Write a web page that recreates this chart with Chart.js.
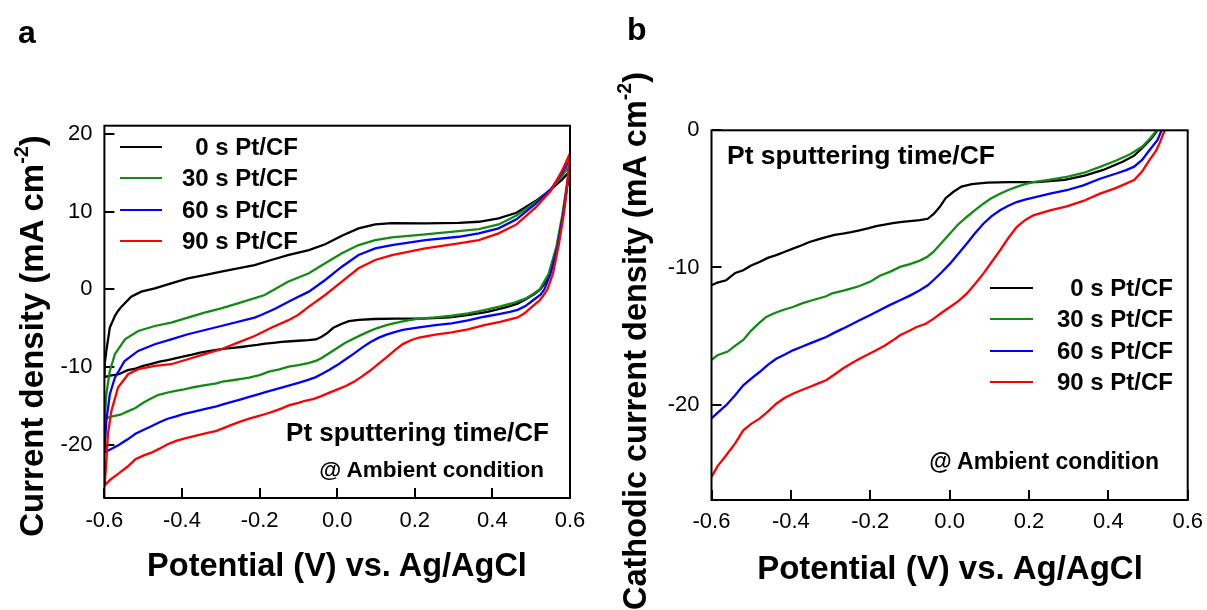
<!DOCTYPE html>
<html>
<head>
<meta charset="utf-8">
<script src="https://cdn.jsdelivr.net/npm/chart.js@4.4.1/dist/chart.umd.min.js"></script>
<style>
  body { margin: 0; background: #fff; }
  #wrap { position: relative; width: 1207px; height: 610px; overflow: hidden; background: #fff;
          font-family: 'Liberation Sans', Arial, sans-serif; color: #000; }
  canvas { position: absolute; top: 0; }
  .t { position: absolute; white-space: nowrap; font-weight: bold; line-height: 1; }
  .c { transform: translate(-50%, -50%); }
  .yt { transform: translate(-50%, -50%) rotate(-90deg); }
  .leg { position: absolute; height: 2px; }
  sup { font-size: 0.6em; line-height: 0; vertical-align: 0.75em; }
</style>
</head>
<body>
<div id="wrap">
  <canvas id="cvA" width="600" height="610" style="left:0"></canvas>
  <canvas id="cvB" width="607" height="610" style="left:600px"></canvas>

  <div class="t" style="left:18px; top:16px; font-size:32px;">a</div>
  <div class="t" style="left:627px; top:13px; font-size:32px;">b</div>

  <div class="t yt" style="left:31px; top:336px; font-size:33px;">Current density (mA cm<sup>-2</sup>)</div>
  <div class="t c" style="left:337px; top:565px; font-size:32.5px;">Potential (V) vs. Ag/AgCl</div>
  <div class="t yt" style="left:635px; top:341px; font-size:32.5px;">Cathodic current density (mA cm<sup>-2</sup>)</div>
  <div class="t c" style="left:950px; top:567px; font-size:33px;">Potential (V) vs. Ag/AgCl</div>

  <div class="t" style="right:658px; top:419px; font-size:26px;">Pt sputtering time/CF</div>
  <div class="t" style="right:663px; top:459px; font-size:22.5px;">@ Ambient condition</div>
  <div class="t" style="left:727px; top:142px; font-size:26.5px;">Pt sputtering time/CF</div>
  <div class="t" style="right:48px; top:450px; font-size:23px;">@ Ambient condition</div>

  <div id="legA"></div>
  <div id="legB"></div>
</div>
<script>
// tick labels and series names
const xTicks = [-0.6, -0.4, -0.2, 0, 0.2, 0.4, 0.6];
const yTicksA = [-20, -10, 0, 10, 20];
const yTicksB = [-20, -10, 0];
const seriesNames = ['0 s Pt/CF', '30 s Pt/CF', '60 s Pt/CF', '90 s Pt/CF'];
const seriesColors = ['#000000', '#138a13', '#0000ff', '#ff0000'];

// cathodic sweep [potential V, current mA/cm2] (panel b, lower branch of panel a)
const cath0 = [[-0.6,-11.3],[-0.585,-11.1],[-0.563,-10.93],[-0.54,-10.4],[-0.52,-10.2],[-0.5,-9.85],[-0.479,-9.6],[-0.458,-9.3],[-0.437,-9.1],[-0.415,-8.85],[-0.395,-8.63],[-0.374,-8.4],[-0.353,-8.14],[-0.331,-7.95],[-0.311,-7.78],[-0.29,-7.62],[-0.269,-7.53],[-0.248,-7.42],[-0.227,-7.29],[-0.206,-7.15],[-0.185,-6.98],[-0.164,-6.88],[-0.143,-6.76],[-0.12,-6.68],[-0.1,-6.62],[-0.075,-6.55],[-0.055,-6.45],[-0.04,-6.1],[-0.025,-5.6],[-0.01,-4.95],[0.009,-4.5],[0.03,-4.1],[0.056,-3.92],[0.095,-3.82],[0.15,-3.78],[0.22,-3.77],[0.29,-3.62],[0.34,-3.3],[0.387,-2.89],[0.436,-2.29],[0.465,-1.85],[0.485,-1.31],[0.509,-0.58],[0.524,0],[0.545,1.5],[0.565,5],[0.58,9],[0.592,13],[0.6,15.2]];
const cath1 = [[-0.6,-16.74],[-0.585,-16.4],[-0.559,-16.13],[-0.54,-15.7],[-0.52,-15.28],[-0.5,-14.6],[-0.481,-14.07],[-0.462,-13.6],[-0.442,-13.34],[-0.42,-13.1],[-0.395,-12.88],[-0.37,-12.6],[-0.344,-12.37],[-0.311,-12.1],[-0.296,-11.88],[-0.27,-11.7],[-0.247,-11.52],[-0.227,-11.35],[-0.198,-11.0],[-0.176,-10.6],[-0.149,-10.3],[-0.125,-9.96],[-0.1,-9.75],[-0.075,-9.5],[-0.055,-9.2],[-0.041,-8.87],[-0.02,-8.2],[0.001,-7.53],[0.02,-6.9],[0.043,-6.32],[0.065,-5.8],[0.085,-5.35],[0.105,-4.95],[0.127,-4.62],[0.148,-4.35],[0.169,-4.13],[0.19,-3.93],[0.211,-3.77],[0.253,-3.6],[0.295,-3.4],[0.337,-3.11],[0.379,-2.67],[0.42,-2.2],[0.455,-1.75],[0.485,-1.2],[0.505,-0.6],[0.522,0],[0.545,2],[0.565,5.5],[0.58,9.5],[0.592,13.5],[0.6,16.0]];
const cath2 = [[-0.6,-21.0],[-0.585,-20.6],[-0.563,-20.04],[-0.54,-19.3],[-0.52,-18.59],[-0.5,-18.1],[-0.479,-17.62],[-0.458,-17.1],[-0.437,-16.65],[-0.415,-16.35],[-0.395,-16.04],[-0.374,-15.8],[-0.353,-15.55],[-0.331,-15.3],[-0.311,-15.07],[-0.29,-14.75],[-0.269,-14.46],[-0.248,-14.15],[-0.227,-13.85],[-0.206,-13.55],[-0.185,-13.24],[-0.155,-12.8],[-0.125,-12.39],[-0.1,-12.05],[-0.075,-11.66],[-0.055,-11.3],[-0.041,-10.93],[-0.02,-10.35],[0.001,-9.72],[0.022,-9.0],[0.043,-8.27],[0.064,-7.5],[0.085,-6.81],[0.106,-6.25],[0.127,-5.83],[0.148,-5.5],[0.169,-5.23],[0.19,-5.05],[0.211,-4.91],[0.253,-4.62],[0.295,-4.37],[0.337,-4.01],[0.379,-3.53],[0.42,-3.15],[0.445,-2.9],[0.465,-2.65],[0.485,-2.16],[0.504,-1.44],[0.524,-0.7],[0.534,0],[0.55,2],[0.568,5.5],[0.582,9.5],[0.593,13.5],[0.6,16.7]];
const cath3 = [[-0.6,-25.27],[-0.585,-24.5],[-0.563,-23.69],[-0.54,-22.8],[-0.52,-21.87],[-0.5,-21.4],[-0.479,-21.02],[-0.458,-20.5],[-0.437,-19.93],[-0.415,-19.5],[-0.395,-19.2],[-0.374,-18.95],[-0.353,-18.71],[-0.331,-18.45],[-0.311,-18.22],[-0.29,-17.8],[-0.269,-17.37],[-0.248,-17.0],[-0.227,-16.65],[-0.206,-16.35],[-0.185,-16.04],[-0.164,-15.7],[-0.143,-15.31],[-0.125,-14.94],[-0.1,-14.6],[-0.083,-14.34],[-0.06,-14.1],[-0.041,-13.75],[-0.02,-13.3],[0.001,-12.88],[0.022,-12.45],[0.043,-11.91],[0.064,-11.2],[0.085,-10.45],[0.106,-9.6],[0.127,-8.75],[0.148,-7.85],[0.169,-7.05],[0.19,-6.55],[0.211,-6.2],[0.253,-5.83],[0.295,-5.54],[0.337,-5.15],[0.379,-4.62],[0.42,-4.2],[0.465,-3.62],[0.485,-3.0],[0.504,-2.16],[0.52,-1.5],[0.529,-0.95],[0.542,0],[0.556,2],[0.572,6],[0.585,10],[0.594,14],[0.6,17.5]];

// anodic sweep (upper branch of panel a)
const anod0 = [[-0.6,-11.36],[-0.599,-9.5],[-0.595,-7.93],[-0.586,-4.93],[-0.573,-3.43],[-0.565,-2.79],[-0.556,-2.23],[-0.531,-0.95],[-0.505,-0.3],[-0.47,0.13],[-0.428,0.77],[-0.385,1.41],[-0.342,1.84],[-0.299,2.27],[-0.256,2.7],[-0.213,3.12],[-0.17,3.77],[-0.127,4.41],[-0.073,5.05],[-0.031,5.8],[0.012,6.9],[0.055,7.84],[0.098,8.35],[0.141,8.52],[0.227,8.48],[0.313,8.56],[0.365,8.69],[0.416,9.13],[0.462,9.85],[0.511,11.35],[0.551,12.85],[0.58,14.14],[0.6,15.2]];
const anod1 = [[-0.6,-16.74],[-0.599,-16.5],[-0.595,-13.5],[-0.586,-10.5],[-0.573,-8.35],[-0.547,-6.43],[-0.513,-5.36],[-0.47,-4.72],[-0.428,-4.29],[-0.385,-3.65],[-0.342,-3.0],[-0.299,-2.44],[-0.256,-1.8],[-0.187,-0.73],[-0.127,0.98],[-0.073,2.06],[-0.031,3.34],[0.012,4.63],[0.055,5.69],[0.098,6.34],[0.141,6.68],[0.227,7.07],[0.313,7.49],[0.365,7.75],[0.416,8.35],[0.462,9.5],[0.511,11.2],[0.551,12.9],[0.58,14.6],[0.6,16.0]];
const anod2 = [[-0.6,-21.0],[-0.595,-16.93],[-0.586,-13.5],[-0.573,-11.36],[-0.548,-9.22],[-0.513,-7.93],[-0.47,-7.07],[-0.428,-6.43],[-0.385,-5.78],[-0.299,-4.72],[-0.213,-3.65],[-0.196,-3.3],[-0.16,-2.5],[-0.117,-1.38],[-0.073,-0.3],[-0.031,1.2],[0.012,2.91],[0.055,4.41],[0.098,5.27],[0.141,5.69],[0.227,6.34],[0.313,6.76],[0.365,7.2],[0.416,7.84],[0.462,9.0],[0.511,11.0],[0.551,12.9],[0.58,15.0],[0.6,16.7]];
const anod3 = [[-0.6,-25.27],[-0.599,-25.06],[-0.595,-22.07],[-0.591,-18.64],[-0.582,-15.64],[-0.565,-12.65],[-0.539,-10.93],[-0.513,-10.28],[-0.47,-9.86],[-0.428,-9.64],[-0.385,-9.0],[-0.342,-8.35],[-0.299,-7.71],[-0.256,-6.86],[-0.213,-6.0],[-0.17,-4.94],[-0.127,-4.0],[-0.101,-3.3],[-0.073,-2.23],[-0.031,-0.73],[0.012,0.98],[0.055,2.7],[0.098,3.77],[0.141,4.41],[0.227,5.27],[0.313,5.91],[0.365,6.34],[0.416,7.2],[0.462,8.35],[0.511,10.5],[0.551,12.7],[0.58,15.3],[0.6,17.5]];

const cathodic = [cath0, cath1, cath2, cath3];
const anodic = [anod0, anod1, anod2, anod3];

const FONT = "'Liberation Sans', Arial, sans-serif";
Chart.defaults.font.family = FONT;
Chart.defaults.color = '#000';

const toPts = arr => arr.map(p => ({ x: p[0], y: p[1] }));

// box round the plot area
const framePlugin = {
  id: 'frame',
  afterDraw(chart) {
    const { ctx, chartArea: a } = chart;
    ctx.save();
    ctx.strokeStyle = '#000';
    ctx.lineWidth = 2;
    ctx.strokeRect(a.left, a.top, a.right - a.left, a.bottom - a.top);
    ctx.restore();
  }
};

function makeScales(yMin, yMax, yTicks, yWidth, xHeight, xPad) {
  const tickFont = { size: 22, family: FONT };
  return {
    x: {
      type: 'linear', min: -0.6, max: 0.6,
      afterBuildTicks: ax => { ax.ticks = xTicks.map(v => ({ value: v })); },
      afterFit: ax => { ax.height = xHeight; ax.paddingLeft = 0; ax.paddingRight = 0; },
      ticks: { callback: v => Number(v).toFixed(1), font: tickFont, color: '#000', padding: xPad, maxRotation: 0, autoSkip: false },
      grid: { drawOnChartArea: false, tickLength: -10, color: '#000', lineWidth: 2 },
      border: { display: false }
    },
    y: {
      type: 'linear', min: yMin, max: yMax,
      afterBuildTicks: ax => { ax.ticks = yTicks.map(v => ({ value: v })); },
      afterFit: ax => { ax.width = yWidth; ax.paddingTop = 0; ax.paddingBottom = 0; },
      ticks: { callback: v => String(v), font: tickFont, color: '#000', padding: 22, autoSkip: false },
      grid: { drawOnChartArea: false, tickLength: -10, color: '#000', lineWidth: 2 },
      border: { display: false }
    }
  };
}

function makeChart(id, datasets, scales, padding) {
  return new Chart(document.getElementById(id), {
    type: 'scatter',
    data: { datasets },
    options: {
      responsive: false, animation: false, devicePixelRatio: 1,
      layout: { padding },
      plugins: { legend: { display: false }, tooltip: { enabled: false } },
      elements: { point: { radius: 0 }, line: { borderWidth: 2.3, tension: 0 } },
      scales
    },
    plugins: [framePlugin]
  });
}

// panel a: full CV loop (cathodic up to 0.6 V, anodic back to -0.6 V)
const dsA = seriesNames.map((name, i) => ({
  label: name,
  data: toPts(cathodic[i].concat(anodic[i].slice().reverse())),
  showLine: true, borderColor: seriesColors[i], backgroundColor: seriesColors[i], fill: false
})).reverse();
makeChart('cvA', dsA, makeScales(-26.85, 21.05, yTicksA, 104.4, 112, 19.5), { left: 0, right: 30, top: 125.7, bottom: 0 });

// panel b: cathodic sweep only
const dsB = seriesNames.map((name, i) => ({
  label: name,
  data: toPts(cathodic[i]),
  showLine: true, borderColor: seriesColors[i], backgroundColor: seriesColors[i], fill: false
})).reverse();
makeChart('cvB', dsB, makeScales(-26.95, 0, yTicksB, 111.5, 110, 19), { left: 0, right: 19.3, top: 130.3, bottom: 0 });

// legends
function buildLegend(el, lineX, lineW, textRight, ys) {
  let html = '';
  seriesNames.forEach((name, i) => {
    html += '<div class="leg" style="left:' + lineX + 'px; top:' + (ys[i] - 1) + 'px; width:' + lineW + 'px; background:' + seriesColors[i] + ';"></div>';
    html += '<div class="t" style="right:' + (1207 - textRight) + 'px; top:' + (ys[i] - 12) + 'px; font-size:24px;">' + name + '</div>';
  });
  document.getElementById(el).innerHTML = html;
}
buildLegend('legA', 120, 42, 298, [147, 178, 209.5, 240.5]);
buildLegend('legB', 990, 43, 1173, [288, 319.3, 350.5, 381.5]);
</script>
</body>
</html>
